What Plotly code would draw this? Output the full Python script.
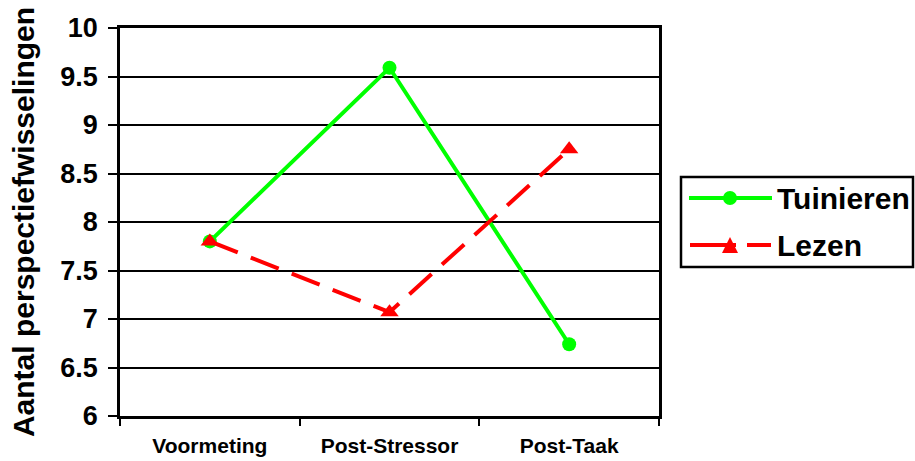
import plotly.graph_objects as go

# Measurements per moment for both conditions
moments = ["Voormeting", "Post-Stressor", "Post-Taak"]
tuinieren = [7.80, 9.59, 6.74]
lezen = [7.80, 7.07, 8.75]
series_names = ["Tuinieren", "Lezen"]

y_ticks = [6, 6.5, 7, 7.5, 8, 8.5, 9, 9.5, 10]
y_tick_labels = ["6", "6.5", "7", "7.5", "8", "8.5", "9", "9.5", "10"]

FONT = "Liberation Sans, Arial, sans-serif"
GREEN = "#00FF00"
RED = "#FF0000"

W, H = 915, 461
L, R, T, B = 120, 256, 28, 45
PW, PH = W - L - R, H - T - B


def px(x):
    """pixel x -> paper fraction"""
    return (x - L) / PW


def py(y):
    """pixel y (from top) -> paper fraction"""
    return (H - B - y) / PH


fig = go.Figure()

fig.add_trace(go.Scatter(
    x=moments, y=tuinieren, name=series_names[0], mode="lines+markers",
    line=dict(color=GREEN, width=4),
    marker=dict(symbol="circle", size=14, color=GREEN),
    showlegend=False,
))
fig.add_trace(go.Scatter(
    x=moments, y=lezen, name=series_names[1], mode="lines+markers",
    line=dict(color=RED, width=4, dash="30px,14px"),
    marker=dict(symbol="triangle-up", size=16, color=RED),
    showlegend=False,
))

# Legend box drawn in paper coordinates
shapes = [
    dict(type="rect", xref="paper", yref="paper",
         x0=px(681), x1=px(913), y0=py(267), y1=py(177),
         line=dict(color="black", width=2.5), fillcolor="white", layer="above"),
    # Tuinieren sample
    dict(type="line", xref="paper", yref="paper",
         x0=px(689), x1=px(772), y0=py(198), y1=py(198),
         line=dict(color=GREEN, width=4)),
    dict(type="circle", xref="paper", yref="paper",
         xsizemode="pixel", ysizemode="pixel",
         xanchor=px(730), yanchor=py(198), x0=-7, x1=7, y0=-7, y1=7,
         line=dict(color=GREEN, width=0), fillcolor=GREEN),
    # Lezen sample
    dict(type="line", xref="paper", yref="paper",
         x0=px(690), x1=px(736), y0=py(245), y1=py(245),
         line=dict(color=RED, width=4)),
    dict(type="line", xref="paper", yref="paper",
         x0=px(747), x1=px(771), y0=py(245), y1=py(245),
         line=dict(color=RED, width=4)),
    dict(type="path", xref="paper", yref="paper",
         xsizemode="pixel", ysizemode="pixel",
         xanchor=px(730), yanchor=py(245),
         path="M -8,-8 L 8,-8 L 0,8 Z",
         line=dict(color=RED, width=0), fillcolor=RED),
]

annotations = [
    dict(text=f"<b>{series_names[0]}</b>", xref="paper", yref="paper",
         x=px(775), y=py(198), xanchor="left", yanchor="middle",
         showarrow=False, font=dict(family=FONT, size=30, color="black")),
    dict(text=f"<b>{series_names[1]}</b>", xref="paper", yref="paper",
         x=px(775), y=py(245), xanchor="left", yanchor="middle",
         showarrow=False, font=dict(family=FONT, size=30, color="black")),
]

fig.update_layout(
    width=W, height=H,
    margin=dict(l=L, r=R, t=T, b=B, autoexpand=False),
    paper_bgcolor="white", plot_bgcolor="white",
    font=dict(family=FONT, color="black"),
    shapes=shapes, annotations=annotations,
    showlegend=False,
)

fig.update_xaxes(
    type="category", range=[-0.5, 2.5],
    showgrid=False, showline=True, linecolor="black", linewidth=2.5, mirror=True,
    ticks="outside", tickson="boundaries", ticklen=7, tickwidth=2, tickcolor="black",
    tickfont=dict(family=FONT, size=21, color="black"),
    tickprefix="<b>", ticksuffix="</b>",
    ticklabelstandoff=9,
    automargin=False,
)

fig.update_yaxes(
    range=[6, 10], tickvals=y_ticks, ticktext=[f"<b>{t}</b>" for t in y_tick_labels],
    showgrid=True, gridcolor="black", gridwidth=2,
    showline=True, linecolor="black", linewidth=2.5, mirror=True,
    ticks="outside", ticklen=9, tickwidth=2, tickcolor="black",
    tickfont=dict(family=FONT, size=27, color="black"),
    ticklabelstandoff=5,
    zeroline=False,
    title=dict(text="<b>Aantal perspectiefwisselingen</b>",
               font=dict(family=FONT, size=30, color="black"), standoff=17),
    automargin=False,
)

fig.write_html("out.html")
